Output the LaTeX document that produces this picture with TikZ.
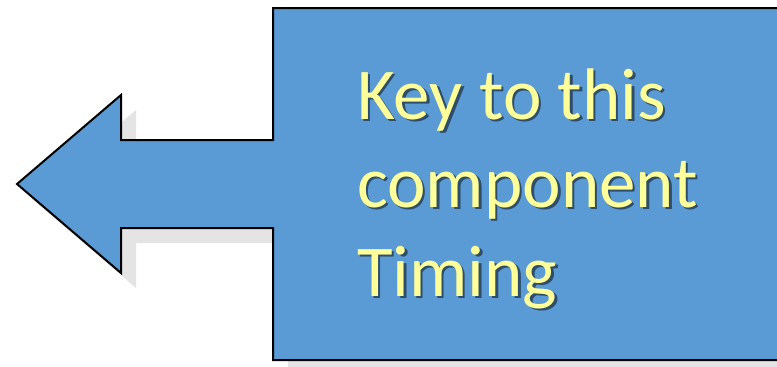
\documentclass[tikz,border=0pt]{standalone}
\usepackage{fontspec}
\setmainfont{Carlito}
\definecolor{calloutblue}{HTML}{5B9BD5}
\definecolor{labelyellow}{HTML}{FFFF99}
\definecolor{dropshade}{HTML}{E4E4E4}
\tikzset{
  calloutedge/.style={draw=black, line width=2pt, line join=miter, fill=calloutblue},
  calloutshade/.style={fill=dropshade},
  labeltext/.style={anchor=base west, inner sep=0pt, text=labelyellow,
    font=\fontsize{73}{88}\selectfont},
  labelshade/.style={anchor=base west, inner sep=0pt, text=black, text opacity=0.5,
    font=\fontsize{73}{88}\selectfont},
}
\begin{document}
\begin{tikzpicture}[x=1pt, y=-1pt]
  \useasboundingbox (0,0) rectangle (777,367);
  \clip (0,0) rectangle (777,367);
  % left-arrow callout outline
  \def\calloutpath{(273,8) -- (800,8) -- (800,360) -- (273,360) -- (273,228)
    -- (121,228) -- (121,273) -- (17,184) -- (121,95) -- (121,140)
    -- (273,140) -- cycle}
  % drop shadow
  \fill[calloutshade, shift={(15,15)}] \calloutpath;
  % callout body
  \path[calloutedge] \calloutpath;
  % caption lines, each with a soft dark shadow
  \node[labelshade] (s1) at (359.5,121.5) {Key to this};
  \node[labelshade] (s2) at (359.5,209.5) {component};
  \node[labelshade] (s3) at (359.5,298.5) {Timing};
  \node[labeltext] (l1) at (357,119) {Key to this};
  \node[labeltext] (l2) at (357,207) {component};
  \node[labeltext] (l3) at (357,296) {Timing};
\end{tikzpicture}
\end{document}
